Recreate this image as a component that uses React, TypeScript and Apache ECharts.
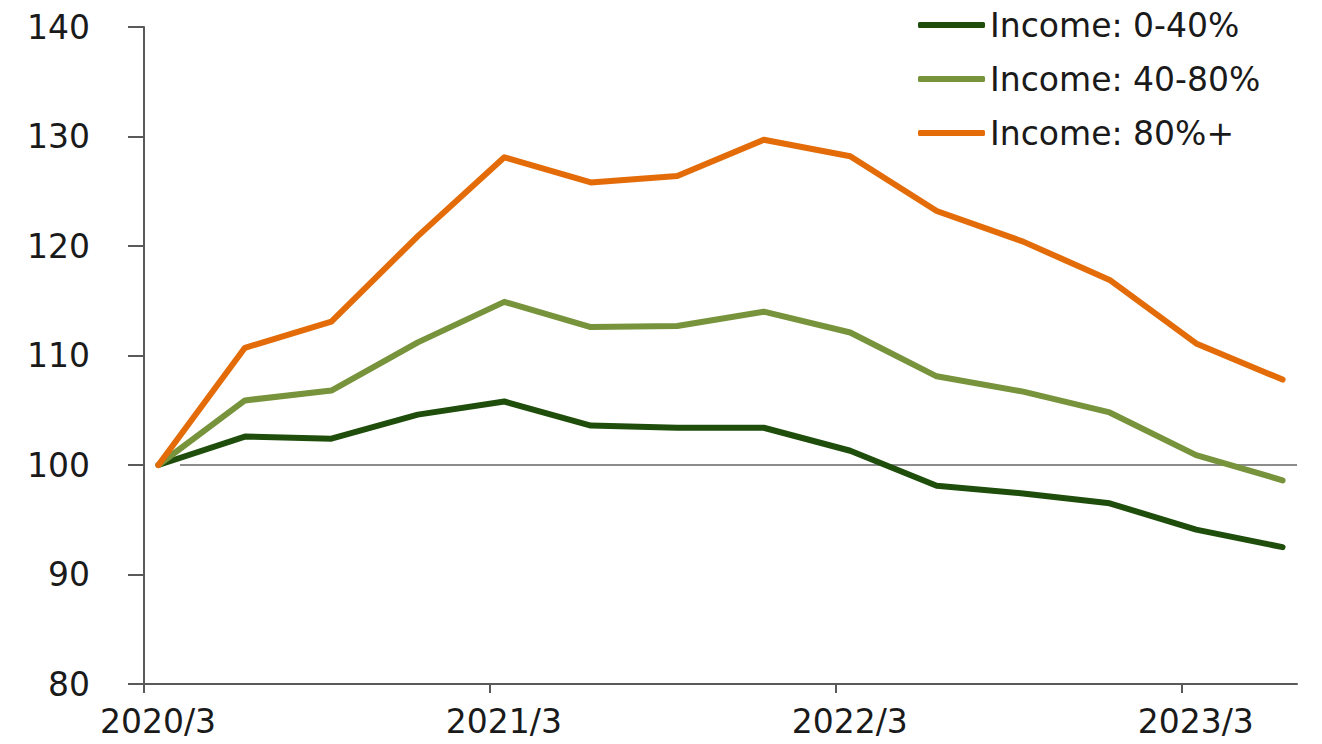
import React, { useEffect, useRef } from "react";
import * as echarts from "echarts";

const seriesNames = ["Income: 0-40%", "Income: 40-80%", "Income: 80%+"];
// quarterly observations, months since 2020/3
const months = [0.5, 3.5, 6.5, 9.5, 12.5, 15.5, 18.5, 21.5, 24.5, 27.5, 30.5, 33.5, 36.5, 39.5];
const low = [100, 102.6, 102.4, 104.6, 105.8, 103.6, 103.4, 103.4, 101.3, 98.1, 97.4, 96.5, 94.1, 92.5];
const mid = [100, 105.9, 106.8, 111.2, 114.9, 112.6, 112.7, 114.0, 112.1, 108.1, 106.7, 104.8, 100.9, 98.6];
const high = [100, 110.7, 113.1, 120.9, 128.1, 125.8, 126.4, 129.7, 128.2, 123.2, 120.4, 116.9, 111.1, 107.8];
const xTickLabels = ["2020/3", "2021/3", "2022/3", "2023/3"];
const colors = ["#1f4e0c", "#77933c", "#e36c09"];

export default function App() {
  const ref = useRef<HTMLDivElement>(null);
  useEffect(() => {
    if (!ref.current) return;
    const chart = echarts.init(ref.current, null, { renderer: "svg" });
    const font = "DejaVu Sans";
    const all = [low, mid, high];
    chart.setOption({
      animation: false,
      textStyle: { fontFamily: font },
      grid: { left: 144, right: 25, top: 27, bottom: 60 },
      legend: {
        orient: "vertical",
        left: 918,
        top: 5,
        padding: 0,
        itemWidth: 67,
        itemHeight: 6,
        itemGap: 14,
        icon: "roundRect",
        textStyle: { fontSize: 33, lineHeight: 40, color: "#1a1a1a", fontFamily: font },
        data: seriesNames,
      },
      xAxis: {
        type: "value",
        min: 0,
        max: 40,
        interval: 12,
        splitLine: { show: false },
        axisLine: { show: true, lineStyle: { color: "#595959", width: 2 } },
        axisTick: { show: true, length: 9, lineStyle: { color: "#595959", width: 2 } },
        axisLabel: {
          fontSize: 33,
          color: "#1a1a1a",
          fontFamily: font,
          margin: 21,
          padding: [0, 0, 0, 28],
          showMaxLabel: false,
          formatter: (v: number) => {
            const i = Math.round(v / 12);
            return v % 12 === 0 && i < xTickLabels.length ? xTickLabels[i] : "";
          },
        },
      },
      yAxis: {
        type: "value",
        min: 80,
        max: 140,
        interval: 10,
        splitLine: { show: false },
        axisLine: { show: true, lineStyle: { color: "#595959", width: 2 } },
        axisTick: { show: true, length: 16, lineStyle: { color: "#595959", width: 2 } },
        axisLabel: { fontSize: 33, color: "#1a1a1a", fontFamily: font, margin: 54 },
      },
      series: all.map((vals, si) => ({
        name: seriesNames[si],
        type: "line",
        data: vals.map((v, i) => [months[i], v]),
        showSymbol: false,
        symbol: "none",
        z: 3 + si,
        lineStyle: { color: colors[si], width: 6, cap: "round", join: "round" },
        itemStyle: { color: colors[si] },
        markLine:
          si === 0
            ? {
                silent: true,
                symbol: "none",
                label: { show: false },
                lineStyle: { color: "#8c8c8c", width: 2, type: "solid" },
                data: [[{ coord: [1.25, 100] }, { coord: [40, 100] }]],
                z: 1,
              }
            : undefined,
      })),
    });
    return () => chart.dispose();
  }, []);
  return <div ref={ref} style={{ width: 1322, height: 744, position: "absolute", left: 0, top: 0 }} />;
}
